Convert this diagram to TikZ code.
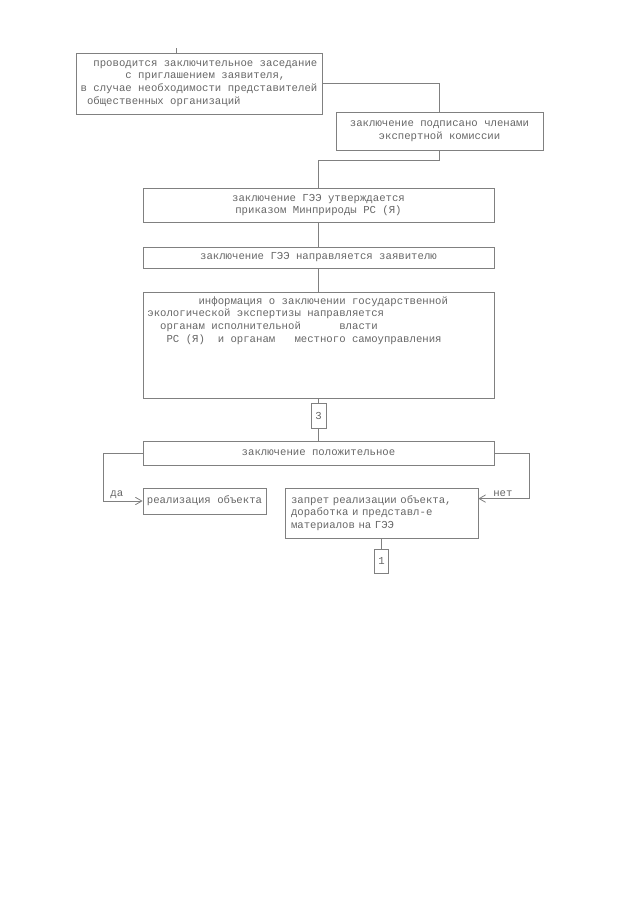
\documentclass[tikz,border=0pt]{standalone}
\usepackage{fontspec}
\setmonofont{Liberation Mono}
\usetikzlibrary{arrows}
\usetikzlibrary{calc}
\newdimen\pix \pix=0.5pt

\begin{document}
\begin{tikzpicture}[ x=0.5pt, y=-0.5pt,
      box/.style={ draw=black!50, thin, text=black!60, inner sep=0pt,
        font=\ttfamily\fontsize{5.33pt}{6.4pt}\selectfont, align=center},
      plain line/.style={draw=black!50, thin},
      normal/.style={ draw=black!50, thin, ->, >=angle 60},
      tag/.style={text=black!60, inner sep=1pt, font=\ttfamily\fontsize{5.33pt}{6.4pt}\selectfont}
      ]
      \useasboundingbox (0,0) rectangle (640,905);

      % boxes
      \node[box, minimum width=246\pix, minimum height=61\pix, align=left] (meeting) at (199,83.5)
        {~~проводится заключительное заседание\\~~~~~~~с приглашением заявителя,\\в случае необходимости представителей\\~общественных организаций};
      \node[box, minimum width=207\pix, minimum height=38\pix] (signed) at (439.5,131)
        {заключение подписано членами\\экспертной комиссии};
      \node[box, minimum width=351\pix, minimum height=34\pix] (approved) at (318.5,205)
        {заключение ГЭЭ утверждается\\приказом Минприроды РС (Я)};
      \node[box, minimum width=351\pix, minimum height=21\pix] (sent) at (318.5,257.5)
        {заключение ГЭЭ направляется заявителю};
      \node[box, minimum width=351\pix, minimum height=106\pix] (info) at (318.5,345) {};
      \node[box, draw=none, align=left, anchor=north west] (infotext) at (147,296)
        {~~~~~~~~информация о заключении государственной\\экологической экспертизы направляется\\~~органам исполнительной~~~~~~власти\\~~~РС (Я)~~и органам~~~местного самоуправления};
      \node[box, minimum width=15\pix, minimum height=25\pix] (conn3) at (318.5,415.5) {3};
      \node[box, minimum width=351\pix, minimum height=24\pix] (positive) at (318.5,453)
        {заключение положительное};
      \node[box, minimum width=123\pix, minimum height=26\pix] (realize) at (204.5,501)
        {реализация объекта};
      \node[box, minimum width=193\pix, minimum height=50\pix, text width=181\pix, align=left] (ban) at (381.5,513)
        {запрет реализации объекта,\\доработка и представл-е\\материалов на ГЭЭ};
      \node[box, minimum width=14\pix, minimum height=24\pix] (conn1) at (381.5,561) {1};

      % connectors
      \draw[plain line] ([xshift=-23\pix]meeting.north) -- ++(0,-5);
      \draw[plain line] (meeting.east) -| (signed.north);
      \draw[plain line] (signed.south) -- ++(0,10) -| (approved.north);
      \draw[plain line] (approved) -- (sent);
      \draw[plain line] (sent) -- (info);
      \draw[plain line] (info) -- (conn3);
      \draw[plain line] (conn3) -- (positive);
      \draw[plain line] (ban) -- (conn1);
      \draw[normal] (positive.west) -- ++(-39,0) |- node[tag, pos=0.67, above] {да} (realize.west);
      \draw[normal] (positive.east) -- ++(35,0) |- node[tag, pos=0.76, above] {нет} ($(ban.north east)+(0,11)$);
    \end{tikzpicture}
\end{document}
